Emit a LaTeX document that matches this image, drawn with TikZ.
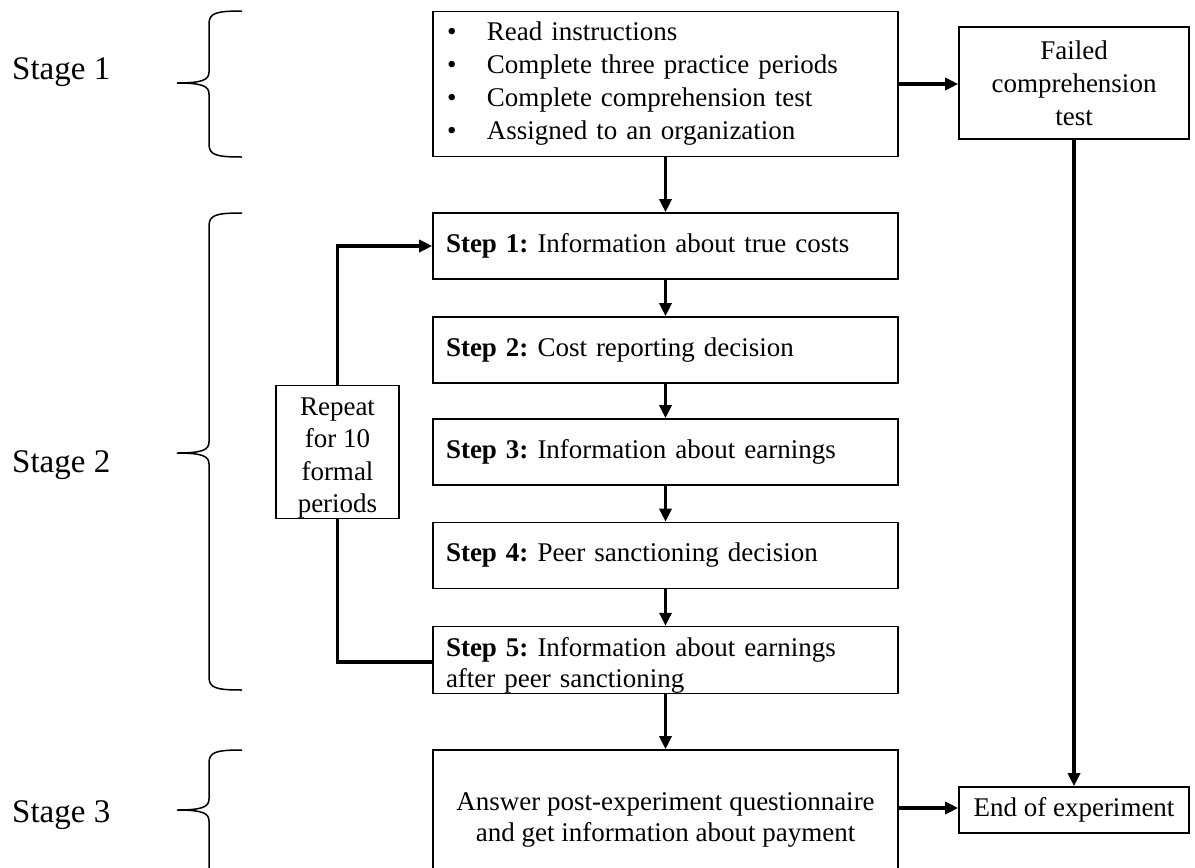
\documentclass[tikz,border=0pt]{standalone}
\usepackage{fontspec}
\setmainfont{Liberation Serif}
\usetikzlibrary{arrows.meta}
\newcommand\lowerby[1]{\rule{0pt}{#1}}
\begin{document}
\frenchspacing
\begin{tikzpicture}[x=1pt,y=-1pt,
  box/.style={draw, line width=1.6pt, inner ysep=0pt, font=\fontsize{27}{33}\selectfont},
  stepbox/.style={box, minimum width=465pt, minimum height=66pt, text width=439pt, inner xsep=13pt, align=left},
  arr/.style={line width=3.2pt, -{Triangle[length=13pt,width=12pt]}},
  ln/.style={line width=3.2pt},
  stagelbl/.style={anchor=base west, inner sep=0pt, font=\fontsize{33}{39}\selectfont},
  brace/.style={line width=1.5pt}]
\useasboundingbox (0,0) rectangle (1195,868);

% stage labels
\node[stagelbl] (st1) at (12,79) {Stage 1};
\node[stagelbl] (st2) at (12,472) {Stage 2};
\node[stagelbl] (st3) at (12,822) {Stage 3};

% braces
\draw[brace] (242,11) .. controls (216,11) and (209,13) .. (209,24) -- (209,72)
  .. controls (209,80) and (202,83) .. (177,83)
  .. controls (202,83) and (209,86) .. (209,94) -- (209,144)
  .. controls (209,155) and (216,157) .. (242,157);
\draw[brace] (242,213) .. controls (216,213) and (209,215) .. (209,226) -- (209,442)
  .. controls (209,450) and (202,453) .. (177,453)
  .. controls (202,453) and (209,456) .. (209,464) -- (209,677)
  .. controls (209,688) and (216,690) .. (242,690);
\draw[brace] (242,750) .. controls (216,750) and (209,752) .. (209,763) -- (209,799)
  .. controls (209,807) and (202,810) .. (177,810)
  .. controls (202,810) and (209,813) .. (209,821) -- (209,880);

% boxes
\node[box, minimum width=465pt, minimum height=145pt, text width=440pt, inner xsep=12.5pt, align=left] (top) at (665.5,84)
  {\hspace*{1.5pt}\makebox[40pt][l]{•}Read instructions\\
   \hspace*{1.5pt}\makebox[40pt][l]{•}Complete three practice periods\\
   \hspace*{1.5pt}\makebox[40pt][l]{•}Complete comprehension test\\
   \hspace*{1.5pt}\makebox[40pt][l]{•}Assigned to an organization};
\node[box, minimum width=230pt, minimum height=112pt, align=center] (failed) at (1074,83)
  {Failed\\comprehension\\test};
\node[stepbox] (s1) at (665.5,246) {\textbf{Step 1:} Information about true costs};
\node[stepbox] (s2) at (665.5,350) {\textbf{Step 2:} Cost reporting decision};
\node[stepbox] (s3) at (665.5,452) {\textbf{Step 3:} Information about earnings};
\node[stepbox] (s4) at (665.5,555.5) {\textbf{Step 4:} Peer sanctioning decision};
\node[stepbox, font=\fontsize{27}{31}\selectfont] (s5) at (665.5,660) {\lowerby{30pt}\textbf{Step 5:} Information about earnings\\after peer sanctioning};
\node[box, minimum width=123pt, minimum height=132pt, inner xsep=0pt, align=center, font=\fontsize{27}{32.5}\selectfont] (rep) at (337.5,452)
  {\lowerby{30pt}Repeat\\for 10\\formal\\periods};
\node[box, minimum width=465pt, minimum height=125pt, align=center, font=\fontsize{27}{31}\selectfont] (final) at (665.5,812.5)
  {\lowerby{32pt}Answer post-experiment questionnaire\\and get information about payment};
\node[box, minimum width=230pt, minimum height=46pt] (end) at (1074,810) {End of experiment};

% connectors
\draw[arr] (top.south) -- (s1.north);
\draw[arr] (s1.south) -- (s2.north);
\draw[arr] (s2.south) -- (s3.north);
\draw[arr] (s3.south) -- (s4.north);
\draw[arr] (s4.south) -- (s5.north);
\draw[arr] (s5.south) -- (final.north);
\draw[arr] (top.east) -- (top.east -| failed.west);
\draw[arr] (failed.south) -- (end.north);
\draw[arr] ([yshift=2pt]end.west -| final.east) -- ([yshift=2pt]end.west);
\draw[arr] (rep.north) |- (s1.west);
\draw[ln] (rep.south) |- ([yshift=-2pt]s5.west);
\end{tikzpicture}
\end{document}
